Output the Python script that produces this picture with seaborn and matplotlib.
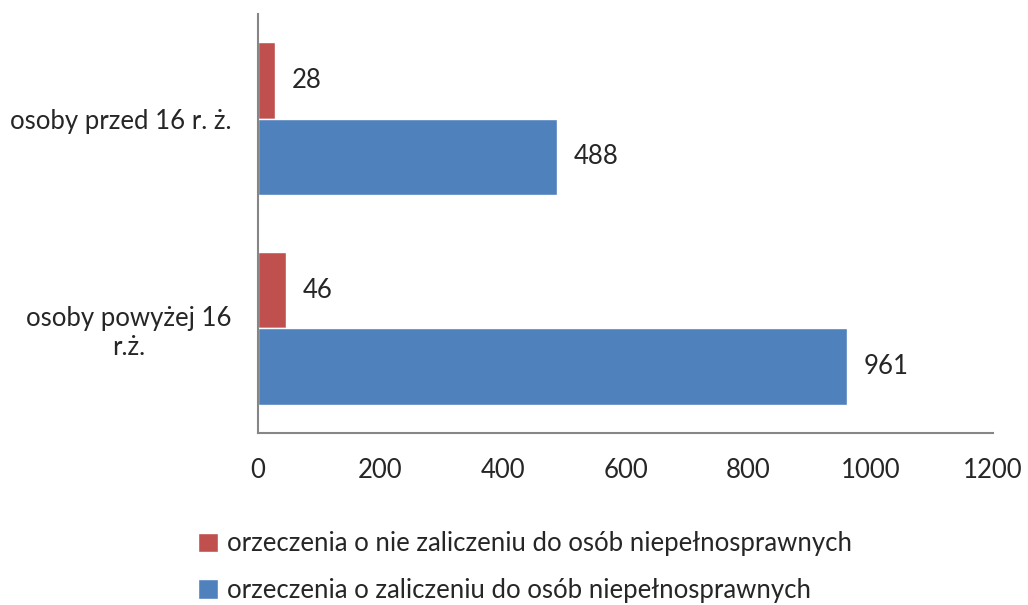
import numpy as np
import pandas as pd
import matplotlib
matplotlib.use("Agg")
import matplotlib.pyplot as plt
import seaborn as sns

# dane
kategorie = ["osoby przed 16 r. ż.", "osoby powyżej 16\nr.ż."]
serie = ["orzeczenia o nie zaliczeniu do osób niepełnosprawnych",
         "orzeczenia o zaliczeniu do osób niepełnosprawnych"]
nie_zaliczone = [28, 46]
zaliczone = [488, 961]
kolory = ["#C0504D", "#4F81BD"]

df = pd.DataFrame({
    "kategoria": kategorie * 2,
    "seria": [serie[0]] * 2 + [serie[1]] * 2,
    "wartosc": nie_zaliczone + zaliczone,
})

sns.set_style("white")
plt.rcParams["font.family"] = ["Lato", "DejaVu Sans"]

fig = plt.figure(figsize=(10.28, 6.05), dpi=100)
ax = fig.add_axes([0.251, 0.284, 0.715, 0.693])

sns.barplot(data=df, y="kategoria", x="wartosc", hue="seria",
            order=kategorie, hue_order=serie, palette=kolory,
            orient="h", width=0.73, gap=0, saturation=1,
            errorbar=None, ax=ax, legend=True)

for cont in ax.containers:
    ax.bar_label(cont, fmt="%d", padding=12, fontsize=18.5)

ax.set_xlim(0, 1200)
ax.set_ylim(1.5, -0.5)
ax.set_xticks(np.arange(0, 1201, 200))
ax.set_xlabel("")
ax.set_ylabel("")
ax.tick_params(axis="x", length=0, pad=18, labelsize=18.5)
ax.tick_params(axis="y", length=0, pad=19, labelsize=18.5)
for lbl in ax.get_yticklabels():
    lbl.set_multialignment("center")

for s in ["top", "right"]:
    ax.spines[s].set_visible(False)
for s in ["left", "bottom"]:
    ax.spines[s].set_color("#868686")
    ax.spines[s].set_linewidth(1.5)

handles, labels = ax.get_legend_handles_labels()
ax.get_legend().remove()
fig.legend(handles, labels, loc="upper left", bbox_to_anchor=(0.17, 0.16),
           frameon=False, fontsize=18.5, handlelength=0.8, handleheight=0.8,
           handletextpad=0.35, labelspacing=0.85)

fig.savefig("out.png", dpi=100)
